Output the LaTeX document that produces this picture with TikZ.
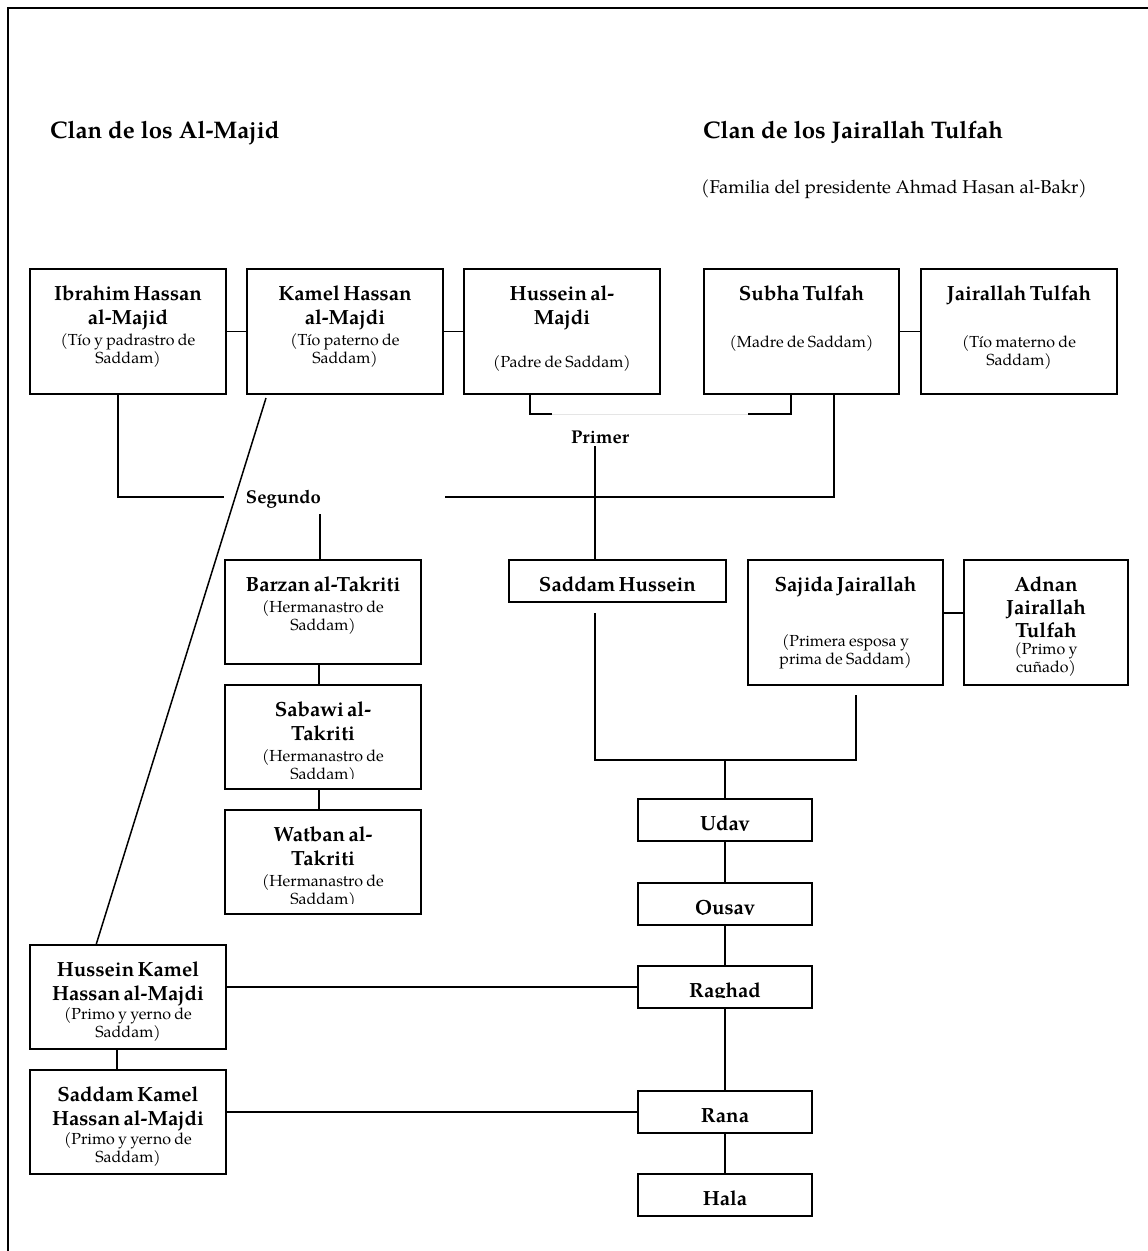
\documentclass[tikz,border=0pt]{standalone}
\usepackage{fontspec}
\setmainfont{TeX Gyre Pagella}
\newcommand\nm{\fontsize{20.5}{24}\selectfont\bfseries}
\newcommand\sm{\fontsize{16}{18}\selectfont\mdseries}
\newcommand\bx[7][8]{%
\long\def\bxcontent{#7}%
\node[box, minimum width=#5pt, minimum height=#6pt,
  path picture={
   \clip ([yshift=#1pt]path picture bounding box.south west) rectangle (path picture bounding box.north east);
   \node[draw=none, fill=none, minimum width=0pt, minimum height=0pt, anchor=north, inner sep=0pt, text width=#5pt, align=center] at ([yshift=-15pt]path picture bounding box.north) {\rule{0pt}{16pt}\bxcontent};
  }] (#2) at (#3,#4) {};}
\begin{document}
\begin{tikzpicture}[x=1pt,y=-1pt,
 box/.style={draw, line width=1.8pt, rectangle, inner sep=0pt, outer sep=0pt},
 conn/.style={line width=1.5pt},
 lbl/.style={inner sep=0pt, font=\fontsize{18.5}{22}\selectfont\bfseries},
 ttl/.style={inner sep=0pt, anchor=base west, font=\fontsize{24}{28}\selectfont\bfseries},
 subt/.style={inner sep=0pt, anchor=base west, font=\fontsize{18.5}{22}\selectfont}]
\fill[white] (0,0) rectangle (1148,1251);
\useasboundingbox (0,0) rectangle (1148,1251);
\draw[line width=2pt] (8,1251) -- (8,8) -- (1148,8);
% titles
\node[ttl] (t1) at (50,138) {Clan de los Al-Majid};
\node[ttl] (t2) at (703,138) {Clan de los Jairallah Tulfah};
\node[subt] (t3) at (701,193) {(Familia del presidente Ahmad Hasan al-Bakr)};
% boxes
\bx{ibr}{128}{331.5}{196}{125}{{\nm Ibrahim Hassan\\al-Majid\par}\vspace{3pt}{\sm (Tío y padrastro de\\Saddam)\par}}
\bx{kam}{345}{331.5}{196}{125}{{\nm Kamel Hassan\\al-Majdi\par}\vspace{3pt}{\sm (Tío paterno de\\Saddam)\par}}
\bx{hus}{562}{331.5}{196}{125}{{\nm Hussein al-\\Majdi\par}\vspace{25pt}{\sm (Padre de Saddam)\par}}
\bx{sub}{801.5}{331.5}{195}{125}{{\nm Subha Tulfah\par}\vspace{29pt}{\sm (Madre de Saddam)\par}}
\bx{jai}{1019}{331.5}{196}{125}{{\nm Jairallah Tulfah\par}\vspace{29pt}{\sm (Tío materno de\\Saddam)\par}}
\bx{sad}{617.5}{581}{217}{42}{{\nm Saddam Hussein\par}}
\bx{saj}{845.5}{622.5}{195}{125}{{\nm Sajida Jairallah\par}\vspace{37pt}{\sm (Primera esposa y\\prima de Saddam)\par}}
\bx{adn}{1046}{622.5}{164}{125}{{\fontsize{20.5}{23}\selectfont\bfseries Adnan\\Jairallah\\Tulfah\par}\vspace{-1pt}{\sm (Primo y\\cuñado)\par}}
\bx{bar}{323}{612}{196}{104}{{\nm Barzan al-Takriti\par}\vspace{3pt}{\sm (Hermanastro de\\Saddam)\par}}
\bx[11]{sab}{323}{737}{196}{104}{{\nm Sabawi al-\\Takriti\par}\vspace{3pt}{\sm (Hermanastro de\\Saddam)\par}}
\bx[11]{wat}{323}{862}{196}{104}{{\nm Watban al-\\Takriti\par}\vspace{3pt}{\sm (Hermanastro de\\Saddam)\par}}
\bx[6]{hk}{128}{997}{196}{104}{{\nm Hussein Kamel\\Hassan al-Majdi\par}\vspace{1pt}{\sm (Primo y yerno de\\Saddam)\par}}
\bx[6]{sk}{128}{1122}{196}{104}{{\nm Saddam Kamel\\Hassan al-Majdi\par}\vspace{1pt}{\sm (Primo y yerno de\\Saddam)\par}}
\bx[10.5]{uda}{725}{820}{174}{42}{{\nm Uday\par}}
\bx[10.5]{qus}{725}{904}{174}{42}{{\nm Qusay\par}}
\bx[10.5]{rag}{725}{987}{174}{42}{{\nm Raghad\par}}
\bx{ran}{725}{1112}{174}{42}{{\nm Rana\par}}
\bx{hal}{725}{1195}{174}{42}{{\nm Hala\par}}
% top row links
\draw[conn] (ibr.east) -- (kam.west);
\draw[conn] (kam.east) -- (hus.west);
\draw[conn] (sub.east) -- (jai.west);
% Segundo
\coordinate (jL) at (118,497);
\coordinate (jLe) at (224,497);
\coordinate (jRs) at (445,497);
\coordinate (jR) at (834,497);
\draw[conn] (ibr.south -| jL) -- (jL) -- (jLe);
\draw[conn] (jRs) -- (jR) -- (jR |- sub.south);
\node[lbl, anchor=base] (seg) at (283.5,503) {Segundo};
\coordinate (sT) at (320,514);
\draw[conn] (sT) -- (sT |- bar.north);
% Primer
\coordinate (bL) at (530,414);
\coordinate (bG1) at (552,414);
\coordinate (bG2) at (748,414);
\coordinate (bR) at (791,414);
\draw[conn] (bL |- hus.south) -- (bL) -- (bG1);
\draw[line width=1pt, black!10] (bG1) -- (bG2);
\draw[conn] (bG2) -- (bR) -- (bR |- sub.south);
\node[lbl, anchor=base] (pri) at (600,443) {Primer};
\coordinate (pT) at (595,446);
\draw[conn] (pT) -- (pT |- sad.north);
% half brothers
\draw[conn] ([xshift=-4pt]bar.south) -- ([xshift=-4pt]sab.north);
\draw[conn] ([xshift=-4pt]sab.south) -- ([xshift=-4pt]wat.north);
% Kamel to Hussein Kamel
\draw[conn] ([xshift=-79pt,yshift=-4pt]kam.south) -- ([xshift=-32pt]hk.north);
\draw[conn] ([xshift=-11pt]hk.south) -- ([xshift=-11pt]sk.north);
% Saddam + Sajida
\draw[conn] ([yshift=9.5pt]saj.east) -- ([yshift=9.5pt]adn.west);
\coordinate (sD) at (595,613);
\coordinate (sJ) at (595,760);
\coordinate (sJm) at (725,760);
\coordinate (sJr) at (856,760);
\coordinate (sjT) at (856,695);
\draw[conn] (sD) -- (sJ) -- (sJr) -- (sjT);
\draw[conn] (sJm) -- (uda.north);
\draw[conn] (uda.south) -- (qus.north);
\draw[conn] (qus.south) -- (rag.north);
\draw[conn] (rag.south) -- (ran.north);
\draw[conn] (ran.south) -- (hal.north);
\draw[conn] (hk.east |- rag.west) -- (rag.west);
\draw[conn] (sk.east |- ran.west) -- (ran.west);
\end{tikzpicture}
\end{document}
